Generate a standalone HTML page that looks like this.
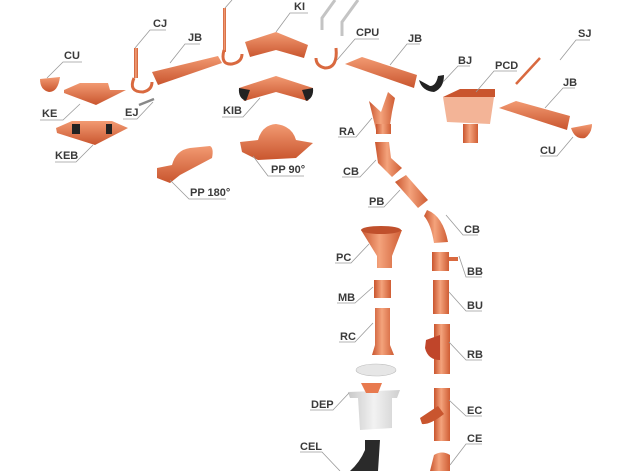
<!DOCTYPE html>
<html><head><meta charset="utf-8"><style>
html,body{margin:0;padding:0;background:#fff;width:629px;height:471px;overflow:hidden}
svg{display:block}
text{font-family:"Liberation Sans",sans-serif;font-weight:bold;font-size:11px;fill:#3a3a3a}
.l{stroke:#9a9a9a;stroke-width:0.8;fill:none}
</style></head><body>
<svg width="629" height="471" viewBox="0 0 629 471" xmlns="http://www.w3.org/2000/svg">
<defs>
<linearGradient id="c" x1="0" y1="0" x2="1" y2="0">
<stop offset="0" stop-color="#c9552e"/><stop offset="0.45" stop-color="#f4a37c"/><stop offset="1" stop-color="#cf5d34"/></linearGradient>
<linearGradient id="cv" x1="0" y1="0" x2="0" y2="1">
<stop offset="0" stop-color="#f29a72"/><stop offset="1" stop-color="#c9552e"/></linearGradient>
<linearGradient id="g" x1="0" y1="0" x2="1" y2="0">
<stop offset="0" stop-color="#c8c8c8"/><stop offset="0.5" stop-color="#f2f2f2"/><stop offset="1" stop-color="#cfcfcf"/></linearGradient>
</defs>

<path d="M40,79 L60,77 Q58,92 49,92 Q40,90 40,79Z" fill="url(#cv)"/>
<path d="M64,90 L80,83 L108,83 L110,90 L126,90 L96,105 L64,93Z" fill="url(#cv)"/>
<path d="M56,128 L72,121 L112,121 L128,128 L95,145 L57,133Z" fill="url(#cv)"/>
<rect x="72" y="124" width="8" height="10" fill="#222"/><rect x="106" y="124" width="6" height="10" fill="#222"/>
<rect x="134" y="48" width="4" height="30" fill="url(#c)"/>
<path d="M134,78 Q128,92 143,92 Q152,90 152,82" fill="none" stroke="#d9693f" stroke-width="3"/>
<path d="M152,72 L218,56 L222,63 L158,85 Z" fill="url(#cv)"/>
<line x1="139" y1="105" x2="154" y2="99" stroke="#888" stroke-width="2.5"/>
<rect x="223" y="8" width="3" height="44" fill="url(#c)"/>
<path d="M224,50 Q220,65 232,64 Q242,62 242,54" fill="none" stroke="#d9693f" stroke-width="3"/>
<path d="M245,42 L276,32 L308,45 L304,58 L276,50 L250,57Z" fill="url(#cv)"/>
<path d="M239,88 L276,76 L313,88 L308,101 L276,92 L244,101Z" fill="url(#cv)"/>
<path d="M239,88 Q238,98 246,101 L250,90Z" fill="#222"/><path d="M313,88 Q314,98 306,101 L302,90Z" fill="#222"/>
<path d="M240,142 L258,140 Q262,125 276,124 Q292,126 296,140 L313,143 L296,158 L258,160 L242,152Z" fill="url(#cv)"/>
<path d="M157,168 L172,165 Q176,150 190,148 L210,146 Q214,148 212,158 L180,175 L170,183 L157,178Z" fill="url(#cv)"/>
<path d="M335,0 L322,18 L322,30" fill="none" stroke="#c4c4c4" stroke-width="3"/>
<path d="M358,0 L342,22 L342,36" fill="none" stroke="#c4c4c4" stroke-width="3"/>
<path d="M336,48 Q338,68 325,68 Q316,66 316,58" fill="none" stroke="#d9693f" stroke-width="3"/>
<path d="M345,64 L362,57 L417,75 L414,88 Z" fill="url(#cv)"/>
<path d="M419,80 Q422,91 434,92 Q444,88 444,75 L438,76 Q436,86 430,86 Z" fill="#222"/>
<path d="M443,97 L460,89 L495,89 L495,97 Z" fill="#c9552e"/>
<path d="M443,97 L447,122 L490,124 L494,97Z" fill="#f3b497"/>
<rect x="463" y="124" width="15" height="19" fill="url(#c)"/>
<line x1="516" y1="84" x2="540" y2="58" stroke="#d9693f" stroke-width="2.5"/>
<path d="M499,108 L516,101 L570,116 L567,130 Z" fill="url(#cv)"/>
<path d="M571,128 Q575,140 585,138 Q592,133 592,124Z" fill="url(#cv)"/>

<path d="M369,101 L381,112 L388,92 L395,98 L392,112 L390,125 L376,130 Z" fill="url(#c)"/>
<rect x="376" y="124" width="15" height="10" fill="url(#c)"/>
<path d="M375,142 L389,142 L391,158 L402,168 L392,177 L378,163 Z" fill="url(#c)"/>
<path d="M395,182 L406,175 L428,200 L418,208 Z" fill="url(#c)"/>
<path d="M427,210 Q443,216 448,242 L434,243 Q431,224 424,216 Z" fill="url(#c)"/>
<path d="M361,230 L402,230 L392,256 L392,268 L377,268 L377,256 Z" fill="url(#c)"/>
<ellipse cx="381" cy="230" rx="20" ry="4" fill="#c0502c"/>
<rect x="432" y="252" width="17" height="19" fill="url(#c)"/><rect x="449" y="257" width="9" height="4" fill="#d9693f"/>
<rect x="374" y="280" width="17" height="18" fill="url(#c)"/>
<rect x="433" y="280" width="16" height="34" fill="url(#c)"/>
<path d="M375,308 L390,308 L390,345 L394,355 L372,355 L375,345Z" fill="url(#c)"/>
<rect x="434" y="324" width="16" height="50" fill="url(#c)"/>
<path d="M426,340 L440,335 L440,360 Q428,360 425,348Z" fill="#c0452a"/>
<ellipse cx="376" cy="370" rx="20" ry="6" fill="#e6e6e6" stroke="#bbb" stroke-width="0.6"/>
<path d="M348,392 L400,390 L397,398 L392,398 L392,428 L360,430 L358,398 L350,398Z" fill="url(#g)"/>
<path d="M361,383 L382,383 L378,393 L366,393Z" fill="#e87a4f"/>
<rect x="434" y="388" width="16" height="53" fill="url(#c)"/>
<path d="M420,418 L438,406 L444,414 Q430,425 422,424 Z" fill="#c9552e"/>
<path d="M434,455 Q442,450 450,455 L450,471 L430,471 Z" fill="url(#c)"/>
<path d="M365,440 L380,440 L378,471 L350,471 Q360,462 365,450 Z" fill="#2a2a2a"/>

<g class="l">
<polyline points="47,78 63,62 82,62"/>
<polyline points="80,104 63,120 40,120"/>
<polyline points="93,145 76,162 55,162"/>
<polyline points="135,48 150,30 166,30"/>
<polyline points="170,63 185,44 200,44"/>
<polyline points="153,102 137,119 123,119"/>
<polyline points="225,8 232,0"/>
<polyline points="276,32 290,13 308,13"/>
<polyline points="260,98 243,117 222,117"/>
<polyline points="253,156 268,176 304,176"/>
<polyline points="170,180 189,199 226,199"/>
<polyline points="337,60 355,39 379,39"/>
<polyline points="390,65 407,44 420,44"/>
<polyline points="443,82 458,66 470,66"/>
<polyline points="476,92 494,71 517,71"/>
<polyline points="560,60 576,40 590,40"/>
<polyline points="545,108 563,88 575,88"/>
<polyline points="573,137 557,156 540,156"/>
<polyline points="372,118 356,137 338,137"/>
<polyline points="376,160 360,177 342,177"/>
<polyline points="400,190 384,207 368,207"/>
<polyline points="446,215 463,235 478,235"/>
<polyline points="369,244 351,263 335,263"/>
<polyline points="459,256 466,277 482,277"/>
<polyline points="373,287 355,303 337,303"/>
<polyline points="449,292 466,311 482,311"/>
<polyline points="373,323 355,342 339,342"/>
<polyline points="449,342 466,360 482,360"/>
<polyline points="349,393 333,410 310,410"/>
<polyline points="449,400 466,416 482,416"/>
<polyline points="450,465 466,444 482,444"/>
<polyline points="300,452 322,452 340,471"/>
</g>
<text x="64" y="59">CU</text>
<text x="42" y="117">KE</text>
<text x="55" y="159">KEB</text>
<text x="153" y="27">CJ</text>
<text x="188" y="41">JB</text>
<text x="125" y="116">EJ</text>
<text x="294" y="10">KI</text>
<text x="223" y="114">KIB</text>
<text x="271" y="173">PP 90°</text>
<text x="190" y="196">PP 180°</text>
<text x="356" y="36">CPU</text>
<text x="408" y="42">JB</text>
<text x="458" y="64">BJ</text>
<text x="495" y="69">PCD</text>
<text x="578" y="37">SJ</text>
<text x="563" y="86">JB</text>
<text x="540" y="154">CU</text>
<text x="339" y="135">RA</text>
<text x="343" y="175">CB</text>
<text x="369" y="205">PB</text>
<text x="464" y="233">CB</text>
<text x="336" y="261">PC</text>
<text x="467" y="275">BB</text>
<text x="338" y="301">MB</text>
<text x="467" y="309">BU</text>
<text x="340" y="340">RC</text>
<text x="467" y="358">RB</text>
<text x="311" y="408">DEP</text>
<text x="467" y="414">EC</text>
<text x="467" y="442">CE</text>
<text x="300" y="450">CEL</text>
</svg>
</body></html>
